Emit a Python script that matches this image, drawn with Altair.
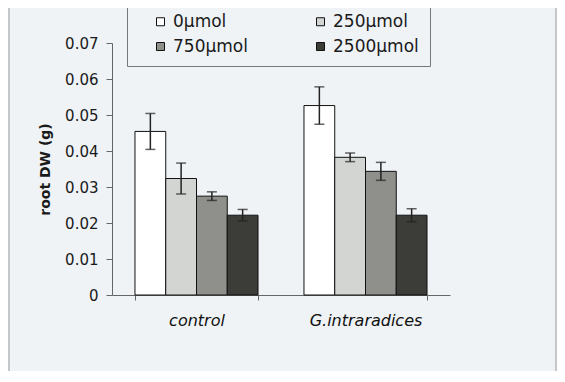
import altair as alt
import pandas as pd

groups = ["control", "G.intraradices"]
doses = ["0µmol", "250µmol", "750µmol", "2500µmol"]
control_means = [0.0455, 0.0324, 0.0275, 0.0222]
control_err = [0.0050, 0.0043, 0.0012, 0.0016]
gint_means = [0.0527, 0.0383, 0.0344, 0.0222]
gint_err = [0.0052, 0.0012, 0.0025, 0.0018]
fills = ["#ffffff", "#d3d5d3", "#8f908c", "#3c3d38"]
y_ticks = [0, 0.01, 0.02, 0.03, 0.04, 0.05, 0.06, 0.07]

rows = []
for g, means, errs in [(groups[0], control_means, control_err), (groups[1], gint_means, gint_err)]:
    for d, m, e in zip(doses, means, errs):
        rows.append({"group": g, "dose": d, "mean": m, "lo": m - e, "hi": m + e})
df = pd.DataFrame(rows)

BG = "#eff3f6"
FONT = "DejaVu Sans"

x_axis = alt.Axis(labelFont=FONT, labelFontStyle="italic", labelFontSize=16,
                  labelColor="#111", labelAngle=0, tickBand="extent",
                  tickSize=5, labelPadding=12, domainColor="#666", tickColor="#666")
y_axis = alt.Axis(values=y_ticks, grid=False, tickSize=6, labelPadding=8,
                  labelOverlap=False, tickCount=8,
                  labelExpr="datum.value == 0 ? '0' : format(datum.value, '.2f')",
                  labelFont=FONT, labelFontSize=15, labelColor="#1a1a1a",
                  titleFont=FONT, titleFontSize=14, titleFontWeight="bold",
                  titleColor="#1a1a1a", titlePadding=12,
                  domainColor="#666", tickColor="#666")
x_scale = alt.Scale(paddingInner=0.272, paddingOuter=0.136)
y_scale = alt.Scale(domain=[0, 0.0701], nice=False)

def X():
    return alt.X("group:N", sort=groups, title=None, scale=x_scale, axis=x_axis)

def XO():
    return alt.XOffset("dose:N", sort=doses, scale=alt.Scale(paddingInner=0, paddingOuter=0))

def Y(field):
    return alt.Y(field, scale=y_scale, title="root DW (g)", axis=y_axis)

bars = alt.Chart(df).mark_bar(stroke="#111", strokeWidth=1).encode(
    x=X(), xOffset=XO(), y=Y("mean:Q"),
    fill=alt.Fill("dose:N", sort=doses, scale=alt.Scale(domain=doses, range=fills),
                  legend=alt.Legend(title=None, orient="none", legendX=15, legendY=-41,
                                    columns=2, direction="horizontal",
                                    symbolType="square", symbolSize=64,
                                    symbolStrokeColor="#111", symbolStrokeWidth=1,
                                    labelFont=FONT, labelFontSize=17, labelColor="#1a1a1a",
                                    labelOffset=4, columnPadding=50, rowPadding=7,
                                    padding=11, symbolOffset=14,
                                    strokeColor="#777", fillColor=BG)),
)

err = alt.Chart(df).mark_rule(color="#222", strokeWidth=1.5).encode(
    x=X(), xOffset=XO(), y=Y("lo:Q"), y2="hi:Q",
)
cap_hi = alt.Chart(df).mark_tick(color="#222", thickness=1.5, size=10, orient="horizontal").encode(
    x=X(), xOffset=XO(), y=Y("hi:Q"),
)
cap_lo = alt.Chart(df).mark_tick(color="#222", thickness=1.5, size=10, orient="horizontal").encode(
    x=X(), xOffset=XO(), y=Y("lo:Q"),
)

frame = alt.Chart(alt.Data(values=[{"k": 1}])).mark_rect(
    fill=None, stroke="#9a9c9e", strokeWidth=1, clip=False
).encode(x=alt.value(-103), x2=alt.value(444), y=alt.value(-36), y2=alt.value(345))

chart = alt.layer(frame, bars, err, cap_hi, cap_lo).properties(
    width=338, height=252, background=BG,
    padding={"left": 104, "top": 35, "right": 107, "bottom": 76},
    autosize=alt.AutoSizeParams(type="none"),
).configure_view(stroke=None)

chart.save("out.html", embed_options={"renderer": "svg", "actions": False})
